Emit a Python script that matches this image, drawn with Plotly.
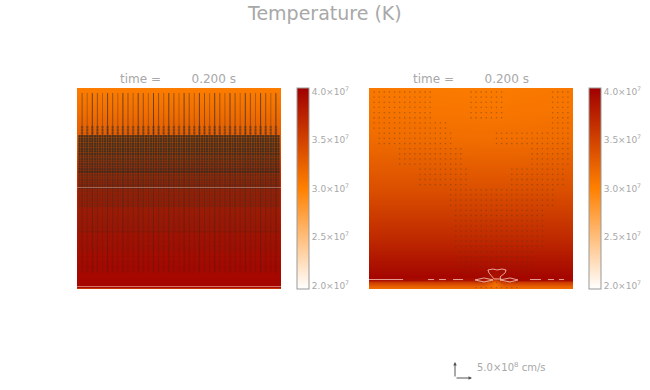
import plotly.graph_objects as go

# temperature (K) versus height (0 = bottom, 1 = top)
heights_left = [0.0, 0.006, 0.012, 0.03, 0.1, 0.25, 0.5, 0.6, 0.75, 0.9, 1.0]
temps_left = [3.4e7, 3.6e7, 3.95e7, 3.95e7, 3.93e7, 3.87e7, 3.75e7, 3.6e7, 3.3e7, 3.12e7, 3.03e7]

# right panel: temperature by height (rows) and width (columns)
columns_right = [0.0, 0.56, 0.62, 0.66, 0.72, 1.0]
heights_right = [0.0, 0.015, 0.035, 0.045, 0.06, 0.1, 0.25, 0.5, 0.75, 0.9, 1.0]
temps_right = [
    [3.15e7, 3.15e7, 3.15e7, 3.15e7, 3.15e7, 3.15e7],
    [3.25e7, 3.25e7, 3.1e7, 3.25e7, 3.25e7, 3.25e7],
    [3.55e7, 3.55e7, 3.2e7, 3.55e7, 3.55e7, 3.55e7],
    [3.93e7, 3.85e7, 3.5e7, 3.85e7, 3.93e7, 3.93e7],
    [3.95e7, 3.95e7, 3.85e7, 3.95e7, 3.95e7, 3.95e7],
    [3.9e7, 3.9e7, 3.9e7, 3.9e7, 3.9e7, 3.9e7],
    [3.68e7, 3.68e7, 3.68e7, 3.68e7, 3.68e7, 3.68e7],
    [3.38e7, 3.38e7, 3.38e7, 3.38e7, 3.38e7, 3.38e7],
    [3.16e7, 3.14e7, 3.14e7, 3.14e7, 3.14e7, 3.16e7],
    [3.09e7, 3.07e7, 3.07e7, 3.07e7, 3.08e7, 3.09e7],
    [3.06e7, 3.04e7, 3.04e7, 3.04e7, 3.05e7, 3.07e7],
]

tick_positions = [2.035e7, 2.52e7, 3.0e7, 3.485e7, 3.965e7]
tick_labels = ["2.0×10<sup>7</sup>", "2.5×10<sup>7</sup>", "3.0×10<sup>7</sup>", "3.5×10<sup>7</sup>", "4.0×10<sup>7</sup>"]
colorscale = [[0, "#ffffff"], [0.5, "#ff8000"], [1, "#a00000"]]

# left panel: velocity columns and the darkness of each
left_columns = [i / 40 for i in range(1, 40)]
left_line_alpha = [0.7 if i % 3 == 0 else (0.5 if i % 3 == 1 else 0.35) for i in range(1, 40)]

# left panel: (top height, bottom height, dot darkness) bands of dense vectors
left_bands = [
    (0.76, 0.66, 0.88),
    (0.66, 0.58, 0.78),
    (0.58, 0.50, 0.6),
    (0.50, 0.40, 0.4),
    (0.40, 0.28, 0.24),
    (0.28, 0.18, 0.13),
    (0.18, 0.08, 0.06),
]

# right panel: (top height, bottom height, [(from, to) widths]) areas of sparse vectors
right_areas = [
    (0.98, 0.85, [(0.01, 0.32), (0.50, 0.66), (0.90, 0.99)]),
    (0.85, 0.78, [(0.01, 0.38), (0.90, 0.99)]),
    (0.78, 0.70, [(0.05, 0.42), (0.62, 0.99)]),
    (0.70, 0.60, [(0.15, 0.45), (0.80, 0.98)]),
    (0.60, 0.50, [(0.25, 0.48), (0.70, 0.95)]),
    (0.50, 0.40, [(0.38, 0.92)]),
    (0.40, 0.20, [(0.42, 0.86)]),
    (0.20, 0.08, [(0.45, 0.80)]),
    (0.08, 0.0, [(0.52, 0.74)]),
]

# right panel: contour pieces near the bottom (width, height)
contour_pieces = [
    ([0.0, 0.167], [0.047, 0.047]),
    ([0.289, 0.319], [0.047, 0.047]),
    ([0.343, 0.377], [0.047, 0.047]),
    ([0.412, 0.461], [0.047, 0.047]),
    ([0.789, 0.843], [0.047, 0.047]),
    ([0.877, 0.907], [0.047, 0.047]),
    ([0.931, 0.956], [0.047, 0.047]),
    ([0.583, 0.608, 0.627, 0.652, 0.672, 0.667, 0.642, 0.647, 0.613, 0.588, 0.583],
     [0.0945, 0.0995, 0.0945, 0.0995, 0.0945, 0.08, 0.06, 0.05, 0.05, 0.08, 0.0945]),
    ([0.52, 0.564, 0.608, 0.564, 0.52], [0.045, 0.055, 0.045, 0.035, 0.045]),
    ([0.642, 0.691, 0.73, 0.691, 0.642], [0.045, 0.055, 0.045, 0.035, 0.045]),
]

W, H = 650, 390
def X(px): return px / W
def Y(py): return 1 - py / H

L1, L2, R1, R2, T, B = 77, 281, 369, 573, 88, 289
GRAY = "#a8a8a8"
FONT = "DejaVu Sans"

fig = go.Figure()

def cb(x):
    return dict(x=X(x), xanchor="left", xpad=0, y=Y(B), yanchor="bottom", yref="paper",
                len=(B - T) / H, lenmode="fraction", ypad=0, thickness=12, thicknessmode="pixels",
                tickvals=tick_positions, ticktext=tick_labels, ticks="", outlinecolor="#999999",
                outlinewidth=1, tickfont=dict(family=FONT, size=9, color=GRAY))

fig.add_trace(go.Heatmap(x=[0, 1], y=heights_left, z=[[t, t] for t in temps_left], zmin=2e7, zmax=4e7,
                         colorscale=colorscale, colorbar=cb(297), xaxis="x", yaxis="y", zsmooth="best"))
fig.add_trace(go.Heatmap(x=columns_right, y=heights_right, z=temps_right, zmin=2e7, zmax=4e7,
                         colorscale=colorscale, colorbar=cb(589), xaxis="x2", yaxis="y2", zsmooth="best"))

# left panel vectors: strong above the dense band, fainter inside it
for c, a in zip(left_columns, left_line_alpha):
    fig.add_trace(go.Scatter(x=[c, c], y=[0.76, 0.975], mode="lines",
                             line=dict(color=f"rgba(45,45,45,{a})", width=1),
                             xaxis="x", yaxis="y", hoverinfo="skip"))
    fig.add_trace(go.Scatter(x=[c, c], y=[0.08, 0.76], mode="lines",
                             line=dict(color=f"rgba(50,30,30,{a * 0.5})", width=1),
                             xaxis="x", yaxis="y", hoverinfo="skip"))
for top, bottom, a in left_bands:
    xs, ys = [], []
    h = top
    while h > bottom + 0.001:
        xs += [i / 80 for i in range(1, 80)]
        ys += [h] * 79
        h -= 0.0125
    fig.add_trace(go.Scatter(x=xs, y=ys, mode="markers",
                             marker=dict(symbol="square", size=2.3, color=f"rgba(50,42,32,{a})", line=dict(width=0)),
                             xaxis="x", yaxis="y", hoverinfo="skip"))
# teeth at the top of the dense band
xs = [i / 40 for i in range(1, 40) for _ in range(3)]
ys = [0.775, 0.79, 0.805] * 39
fig.add_trace(go.Scatter(x=xs, y=ys, mode="markers",
                         marker=dict(symbol="square", size=2.5, color="rgba(50,50,50,0.4)", line=dict(width=0)),
                         xaxis="x", yaxis="y", hoverinfo="skip"))
# left panel pale lines
for h, a in [(0.505, 0.4), (0.012, 0.6)]:
    fig.add_trace(go.Scatter(x=[0, 1], y=[h, h], mode="lines",
                             line=dict(color=f"rgba(255,205,190,{a})", width=1),
                             xaxis="x", yaxis="y", hoverinfo="skip"))

# right panel vectors
xs, ys = [], []
for r in range(39):
    h = 0.98 - r * 0.0256
    for top, bottom, spans in right_areas:
        if bottom < h <= top:
            for a, b in spans:
                cols = [i / 40 for i in range(41) if a <= i / 40 <= b]
                xs += cols
                ys += [h] * len(cols)
fig.add_trace(go.Scatter(x=xs, y=ys, mode="markers",
                         marker=dict(symbol="square", size=1.3, color="rgba(70,55,30,0.38)", line=dict(width=0)),
                         xaxis="x2", yaxis="y2", hoverinfo="skip"))
for px_, py_ in contour_pieces:
    fig.add_trace(go.Scatter(x=px_, y=py_, mode="lines",
                             line=dict(color="rgba(255,215,205,0.75)", width=1),
                             xaxis="x2", yaxis="y2", hoverinfo="skip"))

ax = dict(range=[0, 1], visible=False, fixedrange=True)
dom_y = [Y(B), Y(T)]
text = lambda x, y, t, size, **k: dict(x=X(x), y=Y(y), xref="paper", yref="paper", text=t, showarrow=False,
                                       yanchor="middle", font=dict(size=size, color=GRAY, family=FONT), **k)
arrow = lambda x, y, ax_, ay_: dict(x=X(x), y=Y(y), xref="paper", yref="paper", ax=ax_, ay=ay_, axref="pixel", ayref="pixel",
                                    text="", showarrow=True, arrowhead=2, arrowsize=0.7, arrowwidth=1, arrowcolor="#555555")
fig.update_layout(
    width=W, height=H, margin=dict(l=0, r=0, t=0, b=0), paper_bgcolor="white", plot_bgcolor="white",
    showlegend=False, font=dict(family=FONT, color=GRAY),
    xaxis=dict(ax, domain=[X(L1), X(L2)]), yaxis=dict(ax, domain=dom_y),
    xaxis2=dict(ax, domain=[X(R1), X(R2)]), yaxis2=dict(ax, domain=dom_y),
    annotations=[
        text(324.5, 13, "Temperature (K)", 19, xanchor="center"),
        text(178, 79, "time =\u00a0\u00a0\u00a0\u00a0\u00a0\u00a0\u00a0\u00a00.200 s", 12, xanchor="center"),
        text(471, 79, "time =\u00a0\u00a0\u00a0\u00a0\u00a0\u00a0\u00a0\u00a00.200 s", 12, xanchor="center"),
        text(475, 367, "5.0×10<sup>8</sup> cm/s", 10, xanchor="left"),
        arrow(455, 362, 0, 16),
        arrow(472, 378, -17, 0),
    ],
)
fig.write_html("out.html", post_script="document.body.style.margin='0';", config={"displayModeBar": False})
